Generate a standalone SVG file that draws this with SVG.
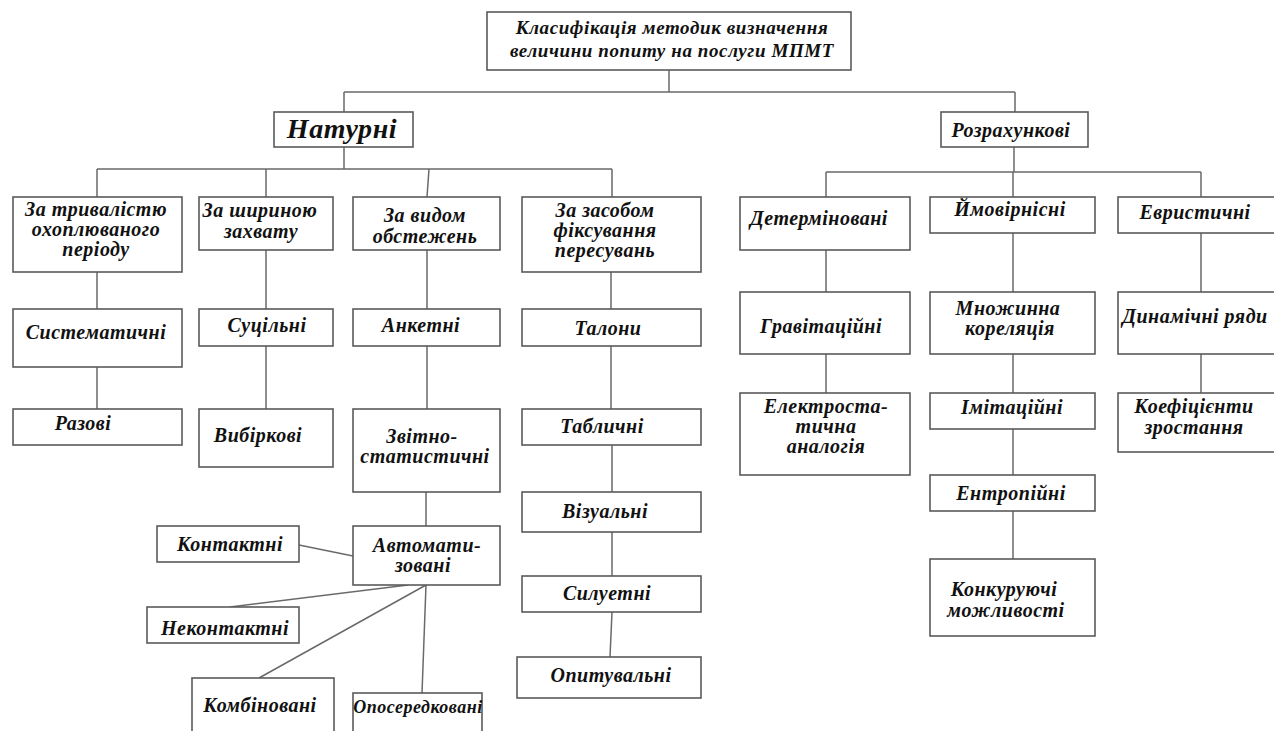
<svg xmlns="http://www.w3.org/2000/svg" width="1274" height="731" viewBox="0 0 1274 731">
  <style>
    .box { fill: #ffffff; stroke: #5a5a5a; stroke-width: 1.6; }
    .link { fill: none; stroke: #6a6a6a; stroke-width: 1.5; }
    text { font-family: "Liberation Serif", "Times New Roman", serif; font-weight: bold; font-style: italic; fill: #111111; text-anchor: middle; font-size: 20px; letter-spacing: 0.5px; }
    .big { font-size: 28px; letter-spacing: 0.6px; }
    .title { font-size: 19px; letter-spacing: 0.6px; }
    .small { font-size: 18px; }
  </style>
  <rect width="1274" height="731" fill="#ffffff"/>

  <!-- connectors -->
  <g id="connectors" class="link">
    <path d="M669 70V92M344 92H1015M344 92V112M1015 92V112"/>
    <path d="M344 147V169M97 169H612M97 169V197M266 169V197M429 169L427 197M612 169V197"/>
    <path d="M1014 147V172M826 172H1201M826 172V197M1013 172V197M1201 172V197"/>
    <path d="M97 272V309M97 367V409"/>
    <path d="M266 250V309M266 346V409"/>
    <path d="M427 250V309M427 346V409M426 492V526"/>
    <path d="M299 545L353 556M230 607L408 585M259 678L426 585M426 585L422 693"/>
    <path d="M611 272V309M611 346V409M612 445V492M612 532V576M612 612L610 657"/>
    <path d="M826 250V292M826 354V393"/>
    <path d="M1013 233V292M1013 354V393M1013 429V475M1013 511V559"/>
    <path d="M1201 233V292M1201 354V393"/>
  </g>

  <g id="root">
    <rect class="box" x="487" y="12" width="364" height="58"/>
    <text class="title" x="672" y="34">Класифікація методик визначення</text>
    <text class="title" x="672" y="57">величини попиту на послуги МПМТ</text>
  </g>

  <g id="naturni">
    <rect class="box" x="274" y="112" width="139" height="35"/>
    <text class="big" x="342" y="138">Натурні</text>
  </g>
  <g id="rozrakhunkovi">
    <rect class="box" x="941" y="112" width="147" height="35"/>
    <text x="1011" y="137">Розрахункові</text>
  </g>

  <!-- natural methods -->
  <g id="za-tryvalistiu">
    <rect class="box" x="13" y="197" width="169" height="75"/>
    <text x="96" y="216">За тривалістю</text>
    <text x="96" y="236">охоплюваного</text>
    <text x="96" y="256">періоду</text>
  </g>
  <g id="za-shyrynoiu">
    <rect class="box" x="199" y="197" width="134" height="53"/>
    <text x="260" y="217">За шириною</text>
    <text x="261" y="238">захвату</text>
  </g>
  <g id="za-vydom">
    <rect class="box" x="353" y="197" width="147" height="53"/>
    <text x="425" y="222">За видом</text>
    <text x="425" y="243">обстежень</text>
  </g>
  <g id="za-zasobom">
    <rect class="box" x="522" y="197" width="179" height="75"/>
    <text x="605" y="217">За засобом</text>
    <text x="605" y="237">фіксування</text>
    <text x="605" y="257">пересувань</text>
  </g>

  <g id="systematychni">
    <rect class="box" x="13" y="309" width="169" height="58"/>
    <text x="96" y="339">Систематичні</text>
  </g>
  <g id="razovi">
    <rect class="box" x="13" y="409" width="169" height="36"/>
    <text x="83" y="430">Разові</text>
  </g>
  <g id="sutsilni">
    <rect class="box" x="199" y="309" width="134" height="37"/>
    <text x="267" y="332">Суцільні</text>
  </g>
  <g id="vybirkovi">
    <rect class="box" x="199" y="409" width="134" height="58"/>
    <text x="258" y="442">Вибіркові</text>
  </g>
  <g id="anketni">
    <rect class="box" x="353" y="309" width="147" height="37"/>
    <text x="421" y="332">Анкетні</text>
  </g>
  <g id="zvitno-statystychni">
    <rect class="box" x="353" y="409" width="147" height="83"/>
    <text x="422" y="443">Звітно-</text>
    <text x="425" y="463">статистичні</text>
  </g>
  <g id="avtomatyzovani">
    <rect class="box" x="353" y="526" width="147" height="59"/>
    <text x="427" y="552">Автомати-</text>
    <text x="423" y="572">зовані</text>
  </g>
  <g id="kontaktni">
    <rect class="box" x="157" y="526" width="142" height="36"/>
    <text x="230" y="551">Контактні</text>
  </g>
  <g id="nekontaktni">
    <rect class="box" x="147" y="607" width="152" height="36"/>
    <text x="225" y="635">Неконтактні</text>
  </g>
  <g id="kombinovani">
    <rect class="box" x="192" y="678" width="142" height="62"/>
    <text x="260" y="712">Комбіновані</text>
  </g>
  <g id="oposeredkovani">
    <rect class="box" x="353" y="693" width="129" height="47"/>
    <text class="small" x="418" y="713">Опосередковані</text>
  </g>

  <g id="talony">
    <rect class="box" x="522" y="309" width="179" height="37"/>
    <text x="608" y="335">Талони</text>
  </g>
  <g id="tablychni">
    <rect class="box" x="522" y="409" width="179" height="36"/>
    <text x="602" y="433">Табличні</text>
  </g>
  <g id="vizualni">
    <rect class="box" x="522" y="492" width="179" height="40"/>
    <text x="605" y="518">Візуальні</text>
  </g>
  <g id="syluetni">
    <rect class="box" x="522" y="576" width="179" height="36"/>
    <text x="607" y="600">Силуетні</text>
  </g>
  <g id="opytuvalni">
    <rect class="box" x="517" y="657" width="184" height="41"/>
    <text x="611" y="682">Опитувальні</text>
  </g>

  <!-- computational methods -->
  <g id="determinovani">
    <rect class="box" x="740" y="197" width="170" height="53"/>
    <text x="819" y="225">Детерміновані</text>
  </g>
  <g id="ymovirnisni">
    <rect class="box" x="930" y="197" width="165" height="36"/>
    <text x="1010" y="216">Ймовірнісні</text>
  </g>
  <g id="evrystychni">
    <rect class="box" x="1118" y="197" width="162" height="36"/>
    <text x="1195" y="219">Евристичні</text>
  </g>
  <g id="gravitatsiini">
    <rect class="box" x="740" y="292" width="170" height="62"/>
    <text x="821" y="333">Гравітаційні</text>
  </g>
  <g id="mnozhynna-koreliatsiia">
    <rect class="box" x="930" y="292" width="165" height="62"/>
    <text x="1008" y="315">Множинна</text>
    <text x="1010" y="335">кореляція</text>
  </g>
  <g id="dynamichni-riady">
    <rect class="box" x="1118" y="292" width="162" height="62"/>
    <text x="1195" y="323">Динамічні ряди</text>
  </g>
  <g id="elektrostatychna-analohiia">
    <rect class="box" x="740" y="393" width="170" height="82"/>
    <text x="826" y="413">Електроста-</text>
    <text x="826" y="433">тична</text>
    <text x="826" y="453">аналогія</text>
  </g>
  <g id="imitatsiini">
    <rect class="box" x="930" y="393" width="165" height="36"/>
    <text x="1012" y="414">Імітаційні</text>
  </g>
  <g id="koefitsiienty-zrostannia">
    <rect class="box" x="1118" y="393" width="162" height="59"/>
    <text x="1194" y="413">Коефіцієнти</text>
    <text x="1194" y="434">зростання</text>
  </g>
  <g id="entropiini">
    <rect class="box" x="930" y="475" width="165" height="36"/>
    <text x="1011" y="500">Ентропійні</text>
  </g>
  <g id="konkuruiuchi-mozhlyvosti">
    <rect class="box" x="930" y="559" width="165" height="77"/>
    <text x="1004" y="596">Конкуруючі</text>
    <text x="1006" y="617">можливості</text>
  </g>
</svg>
